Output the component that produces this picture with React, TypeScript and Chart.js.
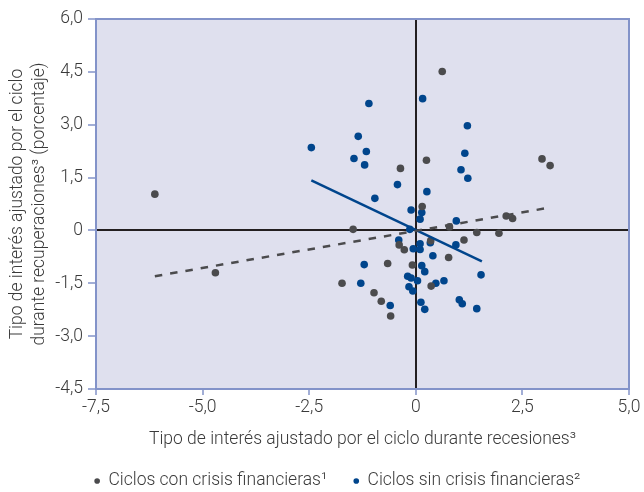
import { useEffect, useRef } from 'react';
import { Chart, registerables } from 'chart.js';

Chart.register(...registerables);

// Cycles with financial crises (grey)
const crisisX = [-6.12, -4.70, 0.62, 0.25, -0.36, 2.96, 3.15, 0.15, -1.47, 0.79, 2.12, 2.27, 1.43, 1.95, 1.13, 0.35, -0.39, -0.27, 0.77, -0.66, -0.08, -1.73, 0.36, -0.98, -0.81, -0.59];
const crisisY = [1.03, -1.20, 4.51, 1.99, 1.76, 2.03, 1.84, 0.68, 0.03, 0.10, 0.41, 0.34, -0.06, -0.08, -0.27, -0.29, -0.41, -0.55, -0.77, -0.94, -0.98, -1.50, -1.58, -1.77, -2.01, -2.43];

// Cycles without financial crises (blue)
const noCrisisX = [-1.10, 0.16, 1.21, -1.35, -2.45, -1.16, -1.45, -1.20, 1.15, 1.06, 1.22, -0.43, 0.26, -0.96, -0.11, 0.14, 0.10, 0.95, -0.14, -0.40, 0.10, 0.34, -0.06, 0.10, 0.94, 0.40, -1.21, 0.14, 0.21, 1.53, -0.19, -0.11, 0.04, 0.47, 0.66, -1.29, -0.16, -0.07, -0.60, 0.12, 0.21, 1.02, 1.09, 1.43];
const noCrisisY = [3.60, 3.74, 2.97, 2.67, 2.35, 2.24, 2.04, 1.86, 2.19, 1.72, 1.48, 1.30, 1.10, 0.91, 0.58, 0.51, 0.32, 0.27, 0.03, -0.27, -0.38, -0.35, -0.52, -0.54, -0.41, -0.72, -0.97, -1.00, -1.17, -1.26, -1.30, -1.35, -1.43, -1.50, -1.43, -1.50, -1.60, -1.72, -2.13, -2.04, -2.24, -1.97, -2.08, -2.22];

// Regression lines
const crisisFitX = [-6.12, 3.15];
const crisisFitY = [-1.30, 0.65];
const noCrisisFitX = [-2.45, 1.55];
const noCrisisFitY = [1.42, -0.88];

const seriesLabels = ['Ciclos con crisis financieras\u00B9', 'Ciclos sin crisis financieras\u00B2'];
const xTitle = 'Tipo de interés ajustado por el ciclo durante recesiones\u00B3';
const yTitle = ['Tipo de interés ajustado por el ciclo', 'durante recuperaciones\u00B3 (porcentaje)'];

const xMin = -7.5, xMax = 5, xStep = 2.5;
const yMin = -4.5, yMax = 6, yStep = 1.5;

const GREY = '#4b4b4d';
const BLUE = '#00458c';
const AXIS = '#8393c9';
const BG = '#dfe0ee';
const TEXT = '#3a3a3a';
const FONT = "Roboto, sans-serif";
const FS = 17.5;
const FW = '300';

const zip = (xs: number[], ys: number[]) => xs.map((x, i) => ({ x, y: ys[i] }));
const fmt = (v: number) => (Math.abs(v) < 1e-9 ? '0' : v.toFixed(1).replace('.', ','));

// layout constants
const L = 46;          // left layout padding (centres the legend)
const P = 26.5;        // legend item gap
const PB = 1 - FS / 2; // bottom padding so legend text sits at y≈481
const LEGEND_H = FS + P + 10;
const X_AXIS_H = 492 - PB - LEGEND_H - 389;

const areaPlugin = {
  id: 'areaPlugin',
  beforeDraw(chart: any) {
    const { ctx, chartArea: a } = chart;
    ctx.save();
    ctx.fillStyle = BG;
    ctx.fillRect(a.left, a.top, a.right - a.left, a.bottom - a.top);
    ctx.restore();
  },
  afterDraw(chart: any) {
    const { ctx, chartArea: a } = chart;
    ctx.save();
    ctx.strokeStyle = AXIS;
    ctx.lineWidth = 2;
    ctx.strokeRect(a.left, a.top, a.right - a.left, a.bottom - a.top);
    ctx.restore();
  },
};

export default function App() {
  const ref = useRef<HTMLCanvasElement>(null);
  useEffect(() => {
    if (!ref.current) return;
    const zeroColor = (c: any) => (c.tick && Math.abs(c.tick.value) < 1e-9 ? '#231f20' : 'rgba(0,0,0,0)');
    const chart = new Chart(ref.current, {
      type: 'scatter',
      data: {
        datasets: [
          {
            label: 'fit-crisis',
            data: zip(crisisFitX, crisisFitY),
            showLine: true,
            borderColor: GREY,
            borderWidth: 2.5,
            borderDash: [7.5, 8],
            pointRadius: 0,
            backgroundColor: GREY,
          } as any,
          {
            label: 'fit-nocrisis',
            data: zip(noCrisisFitX, noCrisisFitY),
            showLine: true,
            borderColor: BLUE,
            borderWidth: 2.5,
            pointRadius: 0,
            backgroundColor: BLUE,
          } as any,
          {
            label: seriesLabels[0],
            data: zip(crisisX, crisisY),
            backgroundColor: GREY,
            borderWidth: 0,
            pointRadius: 3.8,
            pointStyle: 'circle',
          },
          {
            label: seriesLabels[1],
            data: zip(noCrisisX, noCrisisY),
            backgroundColor: BLUE,
            borderWidth: 0,
            pointRadius: 3.8,
            pointStyle: 'circle',
          },
        ],
      },
      options: {
        responsive: false,
        animation: false,
        layout: { padding: { left: L, right: 15, top: 19, bottom: PB } },
        plugins: {
          tooltip: { enabled: false },
          legend: {
            position: 'bottom',
            labels: {
              filter: (item: any) => item.datasetIndex >= 2,
              usePointStyle: true,
              pointStyle: 'circle',
              boxWidth: 5,
              boxHeight: 4,
              padding: P,
              color: TEXT,
              font: { family: FONT, size: FS, weight: FW },
            },
          },
        },
        scales: {
          x: {
            type: 'linear',
            min: xMin,
            max: xMax,
            ticks: {
              stepSize: xStep,
              callback: (v: any) => fmt(Number(v)),
              color: TEXT,
              font: { family: FONT, size: FS, weight: FW },
              padding: 2,
              maxRotation: 0,
            },
            grid: {
              drawOnChartArea: true,
              color: zeroColor,
              lineWidth: 2,
              tickColor: AXIS,
              tickWidth: 1.5,
              tickLength: 6,
            },
            border: { color: AXIS, width: 2 },
            title: {
              display: true,
              text: xTitle,
              color: TEXT,
              font: { family: FONT, size: FS, weight: FW, lineHeight: 20 / FS },
              padding: { top: 0, bottom: 389 + X_AXIS_H - 10 - 440 },
            },
            afterFit: (s: any) => { s.height = X_AXIS_H; },
          },
          y: {
            type: 'linear',
            min: yMin,
            max: yMax,
            ticks: {
              stepSize: yStep,
              callback: (v: any) => fmt(Number(v)),
              color: TEXT,
              font: { family: FONT, size: FS, weight: FW },
              padding: 5,
            },
            grid: {
              drawOnChartArea: true,
              color: zeroColor,
              lineWidth: 2,
              tickColor: AXIS,
              tickWidth: 1.5,
              tickLength: 8,
            },
            border: { color: AXIS, width: 2 },
            title: {
              display: true,
              text: yTitle,
              color: TEXT,
              font: { family: FONT, size: FS, weight: FW, lineHeight: 22 / FS },
              padding: { top: 18 - L - 11, bottom: 0 },
            },
            afterFit: (s: any) => { s.width = 96 - L; },
          },
        },
      },
      plugins: [areaPlugin],
    });
    return () => chart.destroy();
  }, []);
  return (
    <div style={{ position: 'fixed', left: 0, top: 0, width: 644, height: 492, background: '#fff' }}>
      <canvas ref={ref} width={644} height={492} style={{ width: 644, height: 492 }} />
    </div>
  );
}
